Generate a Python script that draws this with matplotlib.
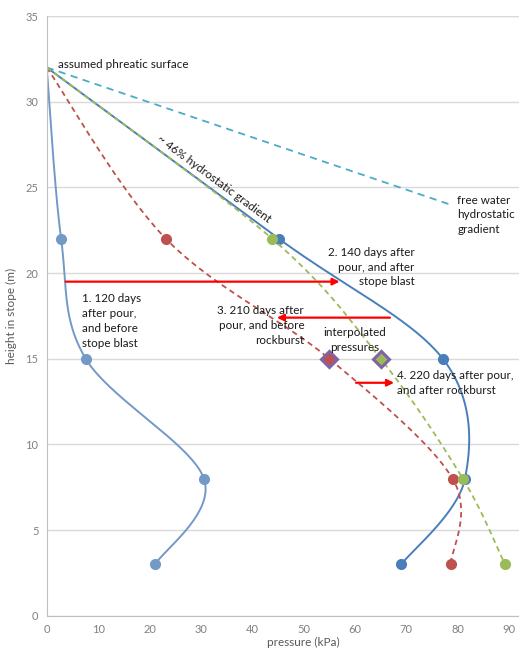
import numpy as np
import matplotlib.pyplot as plt

plt.rcParams['font.family'] = ['Lato', 'DejaVu Sans']

# phreatic surface and reference gradients
top_height = 32.0
free_water = [(0, 32), (78.5, 24)]

# measured piezometer pressures (kPa) at each height (m)
heights = [32, 22, 15, 8, 3]
p_120 = [0, 2.8, 7.6, 30.6, 21.1]
p_140 = [0, 45.2, 77.1, 81.4, 69.0]
p_210 = [0, 23.2, 55.0, 79.0, 78.6]
p_220 = [0, 43.9, 65.0, 81.0, 89.2]

# interpolated values at 15 m
interp_p = [55.0, 65.0]
interp_h = [15, 15]
interp_fill = ['#c0504d', '#9bbb59']


def smooth(xs, ys, n=40):
    # catmull-rom style bezier smoothing between points
    pts = np.column_stack([xs, ys]).astype(float)
    out = []
    for i in range(len(pts) - 1):
        p0 = pts[max(i - 1, 0)]
        p1 = pts[i]
        p2 = pts[i + 1]
        p3 = pts[min(i + 2, len(pts) - 1)]
        c1 = p1 + (p2 - p0) / 6.0
        c2 = p2 - (p3 - p1) / 6.0
        t = np.linspace(0, 1, n)[:, None]
        seg = ((1 - t) ** 3) * p1 + 3 * ((1 - t) ** 2) * t * c1 + 3 * (1 - t) * t ** 2 * c2 + t ** 3 * p2
        out.append(seg if i == 0 else seg[1:])
    out = np.vstack(out)
    return out[:, 0], out[:, 1]


fig = plt.figure(figsize=(5.19, 6.51), dpi=100)
ax = fig.add_axes([0.09, 0.054, 0.99, 0.9214])

grey = '#808080'
ax.set_xlim(0, 100)
ax.set_ylim(0, 35)
ax.set_xticks(np.arange(0, 91, 10))
ax.set_yticks(np.arange(0, 36, 5))
ax.yaxis.grid(True, color='#d9d9d9', lw=1)
ax.set_axisbelow(True)
for s in ['top', 'right']:
    ax.spines[s].set_visible(False)
for s in ['left', 'bottom']:
    ax.spines[s].set_color('#bfbfbf')
ax.tick_params(length=0, colors=grey, labelsize=8, pad=6)
ax.set_xlabel('pressure (kPa)', color='#595959', fontsize=8.5, labelpad=1)
ax.set_ylabel('height in stope (m)', color='#595959', fontsize=8.5, labelpad=6)
ax.axhline(35, color='#d9d9d9', lw=1)

# free water hydrostatic line
fx, fy = zip(*free_water)
ax.plot(fx, fy, color='#4bacc6', lw=1.3, dashes=(4, 3))

# pressure profiles
x, y = smooth(p_120, heights)
ax.plot(x, y, color='#7399c6', lw=1.4)
ax.plot(p_120[1:], heights[1:], 'o', color='#7399c6', ms=7)

x, y = smooth(p_140, heights)
ax.plot(x, y, color='#4a7ebb', lw=1.4)
ax.plot(p_140[1:], heights[1:], 'o', color='#4a7ebb', ms=7)

x, y = smooth(p_210, heights)
ax.plot(x, y, color='#c0504d', lw=1.3, dashes=(3, 2.2))
ax.plot([p_210[i] for i in (1, 3, 4)], [heights[i] for i in (1, 3, 4)], 'o', color='#c0504d', ms=7)

x, y = smooth(p_220, heights)
ax.plot(x, y, color='#9bbb59', lw=1.3, dashes=(3, 2.2))
ax.plot([p_220[i] for i in (1, 3, 4)], [heights[i] for i in (1, 3, 4)], 'o', color='#9bbb59', ms=7)

for px, hy, fc in zip(interp_p, interp_h, interp_fill):
    ax.plot(px, hy, 'D', ms=8.5, mfc=fc, mec='#8064a2', mew=2.2)

# arrows showing the change between surveys
arr = dict(arrowstyle='-|>', color='#ff0000', lw=1.6, mutation_scale=10, shrinkA=0, shrinkB=0)
ax.annotate('', xy=(57.0, 19.5), xytext=(3.7, 19.5), arrowprops=arr)
ax.annotate('', xy=(44.8, 17.4), xytext=(66.8, 17.4), arrowprops=arr)
ax.annotate('', xy=(67.6, 13.6), xytext=(60.2, 13.6), arrowprops=arr)

# annotations
tk = dict(fontsize=8.4, color='#1a1a1a', linespacing=1.42)
ax.text(2.2, 32.2, 'assumed phreatic surface', ha='left', va='center', **tk)
ax.text(32.6, 25.5, '~ 46% hydrostatic gradient', ha='center', va='center',
        rotation=-36.6, rotation_mode='anchor', **tk)
ax.text(79.9, 23.4, 'free water\nhydrostatic\ngradient', ha='left', va='center', **tk)
ax.text(71.6, 20.35, '2. 140 days after\npour, and after\nstope blast', ha='right', va='center', **tk)
ax.text(6.9, 17.2, '1. 120 days\nafter pour,\nand before\nstope blast', ha='left', va='center', **tk)
ax.text(50.1, 16.95, '3. 210 days after\npour, and before\nrockburst', ha='right', va='center', **tk)
ax.text(60.0, 16.1, 'interpolated\npressures', ha='center', va='center', **tk)
ax.text(68.1, 13.6, '4. 220 days after pour,\nand after rockburst', ha='left', va='center', **tk)

fig.savefig('out.png', dpi=100)
